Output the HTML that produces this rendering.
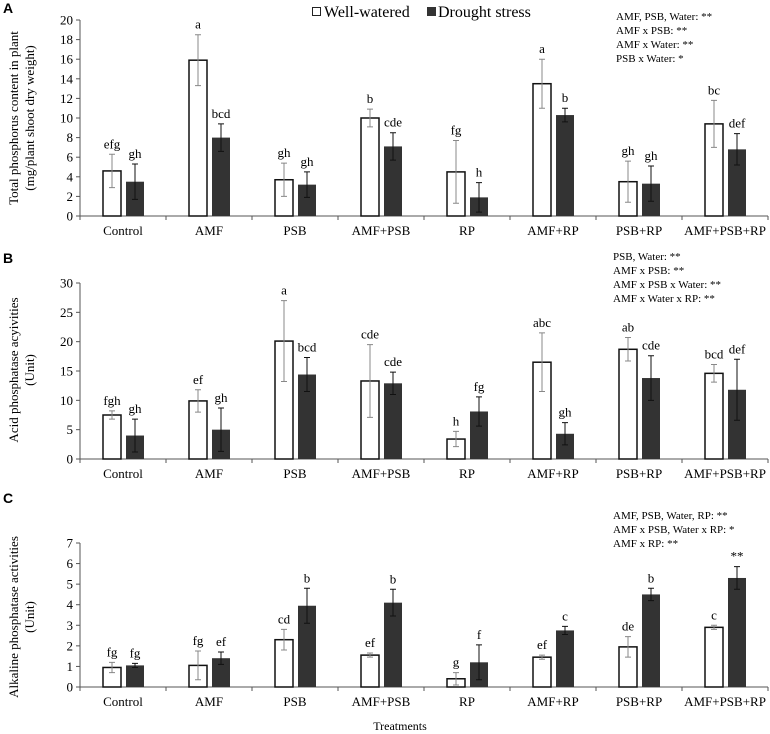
<!DOCTYPE html>
<html><head><meta charset="utf-8">
<style>
html,body{margin:0;padding:0;background:#fff;}
svg{display:block;font-family:"Liberation Serif",serif;}
svg text{font-family:"Liberation Serif",serif;}
svg text.pl{font-family:"Liberation Sans",sans-serif;font-weight:bold;font-size:14px;}
</style></head>
<body>
<svg id="chart" width="770" height="734" viewBox="0 0 770 734" xmlns="http://www.w3.org/2000/svg" font-family="Liberation Serif, serif">
<g>
<rect x="312.5" y="7.5" width="8" height="8" fill="#fff" stroke="#222" stroke-width="1"/>
<text x="324" y="17" font-size="16">Well-watered</text>
<rect x="427" y="7" width="9" height="9" fill="#333"/>
<text x="438" y="17" font-size="16">Drought stress</text>
</g>
<text x="400" y="730" font-size="12" text-anchor="middle">Treatments</text>
</svg>
<script>
const categories = ["Control","AMF","PSB","AMF+PSB","RP","AMF+RP","PSB+RP","AMF+PSB+RP"];
const aWell = [4.6,15.9,3.7,10.0,4.5,13.5,3.5,9.4];
const aWellErr = [1.7,2.6,1.7,0.9,3.2,2.5,2.1,2.4];
const aDrought = [3.5,8.0,3.2,7.1,1.9,10.3,3.3,6.8];
const aDroughtErr = [1.8,1.4,1.3,1.4,1.5,0.7,1.8,1.6];
const aWellLbl = ["efg","a","gh","b","fg","a","gh","bc"];
const aDroughtLbl = ["gh","bcd","gh","cde","h","b","gh","def"];
const aTicks = [0,2,4,6,8,10,12,14,16,18,20];
const bWell = [7.5,9.9,20.1,13.3,3.4,16.5,18.7,14.6];
const bWellErr = [0.7,1.9,6.9,6.2,1.3,5.0,2.0,1.5];
const bDrought = [4.0,5.0,14.4,12.9,8.1,4.3,13.8,11.8];
const bDroughtErr = [2.8,3.7,2.9,1.9,2.5,1.9,3.8,5.2];
const bWellLbl = ["fgh","ef","a","cde","h","abc","ab","bcd"];
const bDroughtLbl = ["gh","gh","bcd","cde","fg","gh","cde","def"];
const bTicks = [0,5,10,15,20,25,30];
const cWell = [0.95,1.05,2.3,1.55,0.4,1.45,1.95,2.9];
const cWellErr = [0.25,0.7,0.5,0.1,0.3,0.1,0.5,0.1];
const cDrought = [1.05,1.4,3.95,4.1,1.2,2.75,4.5,5.3];
const cDroughtErr = [0.1,0.3,0.85,0.65,0.85,0.2,0.3,0.55];
const cWellLbl = ["fg","fg","cd","ef","g","ef","de","c"];
const cDroughtLbl = ["fg","ef","b","b","f","c","b","**"];
const cTicks = [0,1,2,3,4,5,6,7];

const NS="http://www.w3.org/2000/svg";
const svg=document.getElementById('chart');
function mk(tag,attrs,parent,text){const e=document.createElementNS(NS,tag);for(const k in attrs)e.setAttribute(k,attrs[k]);if(text!==undefined)e.textContent=text;(parent||svg).appendChild(e);return e;}

function panel(cfg){
  const g=mk('g',{});
  
  
  const x0=80,x1=768,cw=(x1-x0)/categories.length;
  const ys=v=>cfg.y0-(v-cfg.min)/(cfg.max-cfg.min)*(cfg.y0-cfg.yTop);
  const xc=i=>x0+cw*(i+0.5);
  const pl=mk('text',{x:3,y:cfg.letterY,class:'pl'},g,cfg.id.toUpperCase());
  
  
  const ya=mk('line',{x1:x0,y1:cfg.yTop,x2:x0,y2:cfg.y0,stroke:'#555','stroke-width':1},g);
  
  
  cfg.ticks.forEach(t=>{
    const y=ys(t);
    mk('line',{x1:x0-4,y1:y,x2:x0,y2:y,stroke:'#555'},g);
    const tl=mk('text',{x:x0-7,y:y+4.5,'font-size':13,'text-anchor':'end'},g,String(t));
    
    
  });
  const xa=mk('line',{x1:x0,y1:cfg.y0,x2:x1,y2:cfg.y0,stroke:'#555','stroke-width':1},g);
  
  
  for(let i=0;i<=categories.length;i++){mk('line',{x1:x0+cw*i,y1:cfg.y0,x2:x0+cw*i,y2:cfg.y0+4,stroke:'#555'},g);}
  categories.forEach((c,i)=>{
    const cl=mk('text',{x:xc(i),y:cfg.y0+19,'font-size':13,'text-anchor':'middle'},g,c);
    
    
    const wl=xc(i)-20, dl=xc(i)+3;
    const wb=mk('rect',{x:wl,y:ys(cfg.w[i]),width:18,height:cfg.y0-ys(cfg.w[i]),fill:'#fff',stroke:'#111','stroke-width':1.5},g);
    
    
    const db=mk('rect',{x:dl,y:ys(cfg.d[i]),width:18,height:cfg.y0-ys(cfg.d[i]),fill:'#333'},g);
    
    
    [[wl+9,cfg.w[i],cfg.we[i],'#888',cfg.wl[i]],[dl+9,cfg.d[i],cfg.de[i],'#111',cfg.dl[i]]].forEach(([cx,v,e,col,lab])=>{
      const eb=mk('path',{d:`M${cx},${ys(v+e)}V${ys(v-e)}M${cx-3},${ys(v+e)}H${cx+3}M${cx-3},${ys(v-e)}H${cx+3}`,stroke:col,'stroke-width':1,fill:'none'},g);
      
      
      const lt=mk('text',{x:cx,y:ys(v+e)-6,'font-size':13,'text-anchor':'middle'},g,lab);
      
      
    });
  });
  const yt=mk('text',{transform:`translate(${cfg.titleX},${cfg.titleY}) rotate(-90)`,'font-size':13,'text-anchor':'middle'},g);
  
  
  cfg.title.forEach((t,k)=>{mk('tspan',{x:0,dy:k===0?0:16},yt,t);});
  const an=mk('g',{},g);
  
  
  cfg.notes.forEach((t,k)=>{mk('text',{x:cfg.noteX,y:cfg.noteY+k*14,'font-size':11},an,t);});
}
panel({id:'a',y0:216,yTop:20,min:0,max:20,ticks:aTicks,w:aWell,we:aWellErr,d:aDrought,de:aDroughtErr,wl:aWellLbl,dl:aDroughtLbl,letterY:13,titleX:18,titleY:118,title:["Total phosphorus content in plant","(mg/plant shoot dry weight)"],noteX:616,noteY:20,notes:["AMF, PSB, Water: **","AMF x PSB: **","AMF x Water: **","PSB x Water: *"]});
panel({id:'b',y0:459,yTop:283,min:0,max:30,ticks:bTicks,w:bWell,we:bWellErr,d:bDrought,de:bDroughtErr,wl:bWellLbl,dl:bDroughtLbl,letterY:263,titleX:18,titleY:370,title:["Acid phosphatase acyivities","(Unit)"],noteX:613,noteY:260,notes:["PSB, Water: **","AMF x PSB: **","AMF x  PSB x Water: **","AMF x Water x RP: **"]});
panel({id:'c',y0:687,yTop:543,min:0,max:7,ticks:cTicks,w:cWell,we:cWellErr,d:cDrought,de:cDroughtErr,wl:cWellLbl,dl:cDroughtLbl,letterY:503,titleX:18,titleY:617,title:["Alkaline phosphatase activities","(Unit)"],noteX:613,noteY:519,notes:["AMF, PSB, Water, RP: **","AMF x PSB, Water x RP: *","AMF x RP: **"]});
</script>
</body></html>
